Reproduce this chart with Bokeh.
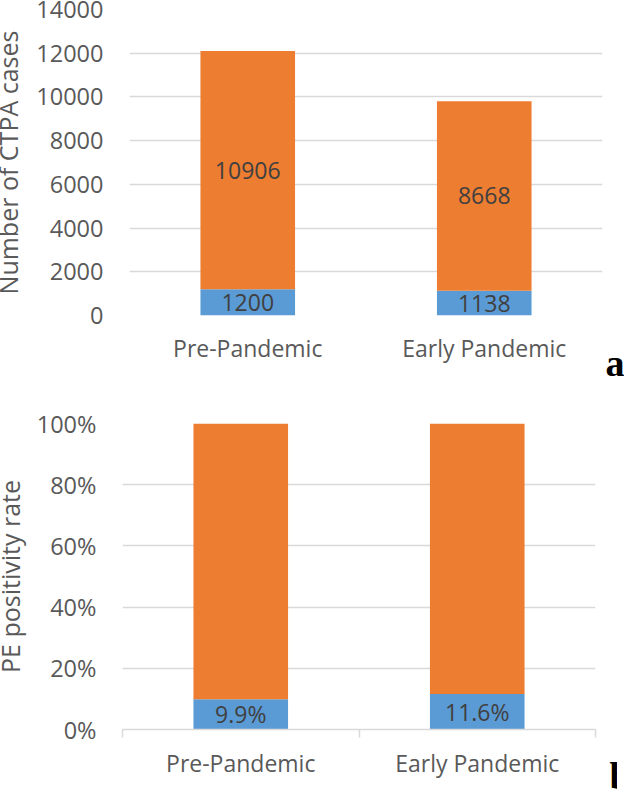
from bokeh.plotting import figure
from bokeh.layouts import column
from bokeh.models import (ColumnDataSource, FixedTicker, LinearAxis, Title,
                          NumeralTickFormatter)
from bokeh.core.properties import value
from bokeh.embed import file_html
from bokeh.resources import INLINE

# ---- data ----
categories = ["Pre-Pandemic", "Early Pandemic"]
pe_positive = [1200, 1138]
pe_negative = [10906, 8668]
positive_rate = [9.9, 11.6]
negative_rate = [90.1, 88.4]
count_ticks = [0, 2000, 4000, 6000, 8000, 10000, 12000, 14000]
rate_ticks = [0, 20, 40, 60, 80, 100]
rate_tick_labels = ["0%", "20%", "40%", "60%", "80%", "100%"]
panel_labels = ["a", "b"]

# ---- style ----
BLUE = "#5B9BD5"
ORANGE = "#ED7D31"
GRID = "#D9D9D9"
TXT = "#595959"
DLBL = "#404040"
FONT = "Open Sans"
SHIFT = 24  # extra canvas on the left, hidden by a negative margin


def style_y(p, title, title_standoff):
    ax = p.yaxis[0]
    ax.axis_line_color = None
    ax.major_tick_line_color = None
    ax.minor_tick_line_color = None
    ax.major_tick_out = 0
    ax.major_tick_in = 0
    ax.major_label_text_font = FONT
    ax.major_label_text_font_size = "23.5px"
    ax.major_label_text_color = TXT
    ax.major_label_standoff = 26
    ax.axis_label = title
    ax.axis_label_text_font = FONT
    ax.axis_label_text_font_style = "normal"
    ax.axis_label_text_font_size = "25px"
    ax.axis_label_text_color = TXT
    ax.axis_label_standoff = title_standoff
    p.ygrid.grid_line_color = GRID
    p.ygrid.grid_line_width = 1.5
    p.outline_line_color = None


def panel_title(text, offset, standoff):
    return Title(text=text, align="left", offset=offset, vertical_align="top",
                 standoff=standoff, text_font="Liberation Serif", text_font_style="bold",
                 text_font_size="38px", text_color="black")


# ---- panel a ----
p1 = figure(x_range=categories, y_range=(0, 14000), width=624 + SHIFT, height=395,
            output_backend="svg", toolbar_location=None,
            min_border_left=129 + SHIFT, min_border_right=22, min_border_top=9,
            min_border_bottom=80)
src1 = ColumnDataSource(dict(cat=categories, pos=pe_positive, neg=pe_negative))
p1.vbar_stack(["pos", "neg"], x="cat", width=0.4, fill_color=[BLUE, ORANGE],
              line_color=None, source=src1)
mid1 = [v / 2 for v in pe_positive] + [p + n / 2 for p, n in zip(pe_positive, pe_negative)]
lbl1 = ColumnDataSource(dict(x=categories * 2, y=mid1,
                             t=[str(v) for v in pe_positive + pe_negative]))
p1.text(x="x", y="y", text="t", source=lbl1, text_align="center", text_baseline="middle",
        text_font=value(FONT), text_font_size="23px", text_color=DLBL)
p1.yaxis.ticker = FixedTicker(ticks=count_ticks)
p1.yaxis.formatter = NumeralTickFormatter(format="0")
style_y(p1, "Number of CTPA cases", 8)
p1.xgrid.grid_line_color = None
xa = p1.xaxis[0]
xa.axis_line_color = None
xa.major_tick_line_color = None
xa.major_tick_out = 0
xa.major_tick_in = 0
xa.major_label_text_font = FONT
xa.major_label_text_font_size = "23px"
xa.major_label_text_color = TXT
xa.major_label_standoff = 16
p1.add_layout(panel_title(panel_labels[0], 476, -50), "below")

# ---- panel b ----
p2 = figure(x_range=categories, y_range=(0, 100), x_axis_type=None, width=624 + SHIFT + 7,
            height=395, output_backend="svg", toolbar_location=None,
            min_border_left=129 + SHIFT, min_border_right=22, min_border_top=28,
            min_border_bottom=61, margin=(0, 0, 0, -7))
src2 = ColumnDataSource(dict(cat=categories, pos=positive_rate, neg=negative_rate))
p2.vbar_stack(["pos", "neg"], x="cat", width=0.4, fill_color=[BLUE, ORANGE],
              line_color=None, source=src2)
lbl2 = ColumnDataSource(dict(x=categories, y=[v / 2 for v in positive_rate],
                             t=[f"{v}%" for v in positive_rate]))
p2.text(x="x", y="y", text="t", source=lbl2, text_align="center", text_baseline="middle",
        text_font=value(FONT), text_font_size="23px", text_color=DLBL)
p2.yaxis.ticker = FixedTicker(ticks=rate_ticks)
p2.yaxis.major_label_overrides = {t: l for t, l in zip(rate_ticks, rate_tick_labels)}
style_y(p2, "PE positivity rate", 7)

# category axis: labels at factor centres, short ticks at factor boundaries
centres = [i + 0.5 for i in range(len(categories))]
bounds = list(range(len(categories) + 1))
cat_axis = LinearAxis(ticker=FixedTicker(ticks=centres, minor_ticks=bounds),
                      major_label_overrides={c: n for c, n in zip(centres, categories)},
                      axis_line_color=GRID, axis_line_width=1.5,
                      major_tick_line_color=None, major_tick_out=0, major_tick_in=0,
                      minor_tick_line_color=GRID, minor_tick_line_width=1.5,
                      minor_tick_out=8, minor_tick_in=0,
                      major_label_text_font=FONT, major_label_text_font_size="23px",
                      major_label_text_color=TXT, major_label_standoff=9)
p2.add_layout(cat_axis, "below")
p2.add_layout(panel_title(panel_labels[1], 487, -54), "below")

layout = column(p1, p2, spacing=0, margin=(0, 0, 0, -SHIFT))
open("out.html", "w").write(file_html(layout, INLINE))
